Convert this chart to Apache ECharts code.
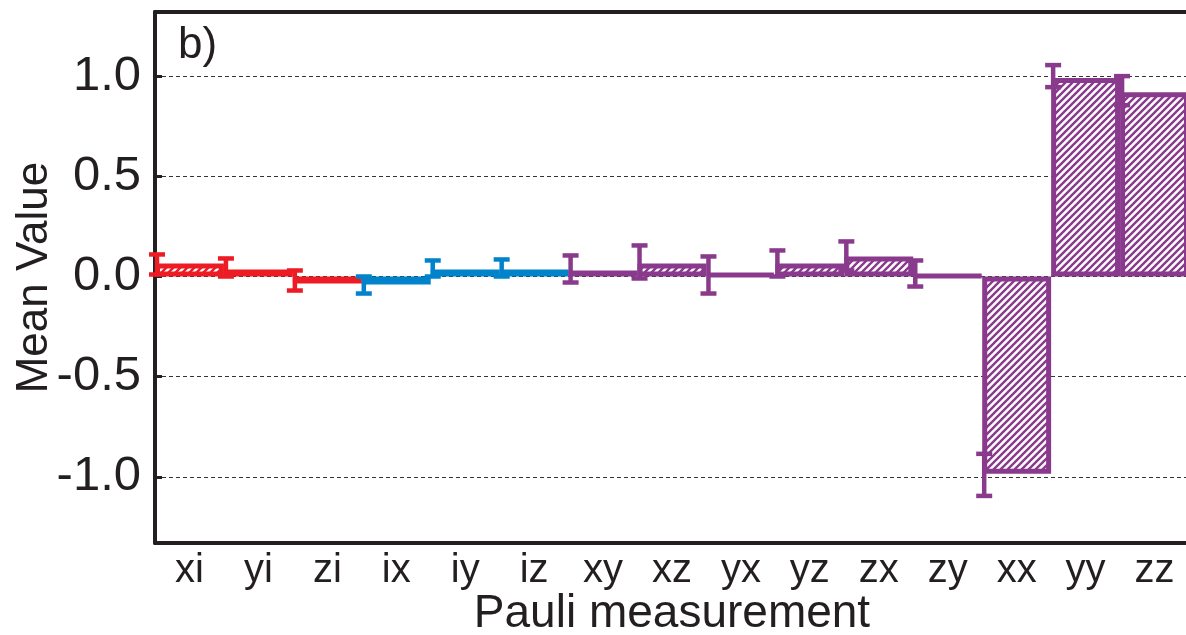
<!DOCTYPE html>
<html>
<head>
<meta charset="utf-8">
<script src="https://cdn.jsdelivr.net/npm/echarts@6/dist/echarts.min.js"></script>
<style>
    html, body {margin:0;padding:0;background:#fff;}
    #chart {width:1186px;height:635px;}
</style>
</head>
<body>
<div id="chart"></div>
<script>
    // data
    var categories = ['xi', 'yi', 'zi', 'ix', 'iy', 'iz', 'xy', 'xz', 'yx', 'yz', 'zx', 'zy', 'xx', 'yy', 'zz'];
    var meanValues = [0.065, 0.035, -0.035, -0.04, 0.035, 0.035, 0.03, 0.065, 0.015, 0.065, 0.10, 0.005, -0.985, 0.99, 0.92];
    var errLow  = [0.01, 0.0, -0.07, -0.085, 0.0, 0.0, -0.03, -0.01, -0.085, 0.0, 0.03, -0.05, -1.095, 0.945, 0.855];
    var errHigh = [0.11, 0.09, 0.03, 0.0, 0.08, 0.085, 0.105, 0.155, 0.10, 0.13, 0.175, 0.08, -0.885, 1.055, 1.0];
    var groupOf = [0, 0, 0, 1, 1, 1, 2, 2, 2, 2, 2, 2, 2, 2, 2];
    var yTicks = [-1, -0.5, 0, 0.5, 1];

    var colors = ['#ed1c24', '#0083ca', '#8a3a8c'];
    var ink = '#231f20';
    var font = 'Liberation Sans, Arial, sans-serif';

    // diagonal hatch, one canvas per colour
    function hatch(color) {
        var p = 7;
        var c = document.createElement('canvas');
        c.width = p; c.height = p;
        var ctx = c.getContext('2d');
        ctx.fillStyle = '#fff';
        ctx.fillRect(0, 0, p, p);
        ctx.strokeStyle = color;
        ctx.lineWidth = 2.4;
        ctx.beginPath();
        ctx.moveTo(-1, p + 1); ctx.lineTo(p + 1, -1);
        ctx.moveTo(-1, 1); ctx.lineTo(1, -1);
        ctx.moveTo(p - 1, p + 1); ctx.lineTo(p + 1, p - 1);
        ctx.stroke();
        return {image: c, repeat: 'repeat'};
    }
    var patterns = colors.map(hatch);

    var barData = meanValues.map(function (v, i) {
        var g = groupOf[i];
        return {
            value: v,
            itemStyle: {color: patterns[g], borderColor: colors[g], borderWidth: 5}
        };
    });
    var errData = categories.map(function (c, i) {
        return [i, errLow[i], errHigh[i]];
    });

    var chart = echarts.init(document.getElementById('chart'), null, {renderer: 'canvas'});
    var option = {
        animation: false,
        grid: {left: 155, right: -3, top: 12, bottom: 92, containLabel: false, outerBoundsMode: 'none'},
        xAxis: [{
            type: 'category',
            data: categories,
            position: 'bottom',
            axisLine: {onZero: false, lineStyle: {color: ink, width: 4}},
            axisTick: {inside: true, alignWithLabel: true, length: 7, lineStyle: {color: ink, width: 3}},
            axisLabel: {color: ink, fontFamily: font, fontSize: 40, margin: 8},
            name: 'Pauli measurement',
            nameLocation: 'middle',
            nameGap: 48,
            nameMoveOverlap: false,
            nameTextStyle: {color: ink, fontFamily: font, fontSize: 46}
        }, {
            type: 'category',
            data: categories,
            position: 'top',
            axisLine: {onZero: false, lineStyle: {color: ink, width: 4}},
            axisTick: {inside: true, alignWithLabel: true, length: 7, lineStyle: {color: ink, width: 3}},
            axisLabel: {show: false}
        }],
        yAxis: {
            type: 'value',
            min: -1.33,
            max: 1.32,
            axisLine: {show: true, onZero: false, lineStyle: {color: ink, width: 4}},
            axisTick: {show: true, inside: true, length: 7, customValues: yTicks, lineStyle: {color: ink, width: 3}},
            axisLabel: {
                customValues: yTicks,
                color: ink, fontFamily: font, fontSize: 49, margin: 14,
                formatter: function (v) { return v.toFixed(1); }
            },
            splitLine: {show: true, lineStyle: {color: '#333', width: 1, type: [4, 3]}},
            name: 'Mean Value',
            nameLocation: 'middle',
            nameGap: 98,
            nameMoveOverlap: false,
            nameTextStyle: {color: ink, fontFamily: font, fontSize: 44}
        },
        graphic: [{
            type: 'text', left: 178, top: 24,
            style: {text: 'b)', fill: ink, font: '44px Liberation Sans, Arial, sans-serif'}
        }],
        series: [{
            type: 'bar',
            data: barData,
            barCategoryGap: '0%',
            z: 2
        }, {
            type: 'custom',
            data: errData,
            z: 4,
            renderItem: function (params, api) {
                var i = api.value(0);
                var half = api.size([1, 0])[0] / 2;
                var x = api.coord([i, 0])[0] - half + 2;
                var yl = api.coord([i, api.value(1)])[1];
                var yh = api.coord([i, api.value(2)])[1];
                var st = {stroke: colors[groupOf[i]], lineWidth: 4.5};
                return {
                    type: 'group',
                    children: [
                        {type: 'line', shape: {x1: x, y1: yl, x2: x, y2: yh}, style: st},
                        {type: 'line', shape: {x1: x - 8, y1: yl, x2: x + 8, y2: yl}, style: st},
                        {type: 'line', shape: {x1: x - 8, y1: yh, x2: x + 8, y2: yh}, style: st}
                    ]
                };
            }
        }]
    };
    chart.setOption(option);
    window.onresize = function () {
        chart.resize();
    };
</script>
</body>
</html>
